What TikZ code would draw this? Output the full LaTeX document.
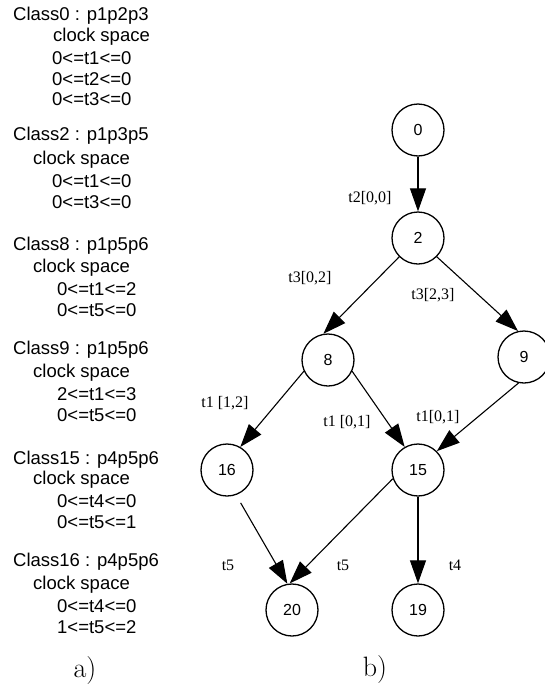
\documentclass[tikz,border=0pt]{standalone}
\usepackage{fontspec}
\newfontfamily\sansf{Liberation Sans}
\newfontfamily\seriff{Liberation Serif}
\usetikzlibrary{arrows.meta}

\begin{document}
\begin{tikzpicture}[x=1pt,y=-1pt,
  state/.style={circle,draw,line width=1.3pt,minimum size=52pt,inner sep=0pt,
    font=\sansf\fontsize{16}{16}\selectfont},
  trans/.style={line width=1.1pt,-{Triangle[length=23pt,width=16pt]}},
  elabel/.style={font=\seriff\fontsize{16}{16}\selectfont,inner sep=0pt},
  info/.style={font=\sansf\fontsize{18.5}{20}\selectfont,inner sep=0pt,anchor=west},
  caption/.style={font=\fontsize{28}{30}\selectfont,inner sep=0pt}]
\useasboundingbox (0,0) rectangle (545,686);

% a) clock spaces of the state classes
\node[info] (c0)  at (13,16)  {Class0 : p1p2p3};
\node[info] (c0s) at (53,37)  {clock space};
\node[info] (c0a) at (52,58)  {0<=t1<=0};
\node[info] (c0b) at (52,79)  {0<=t2<=0};
\node[info] (c0c) at (52,99)  {0<=t3<=0};

\node[info] (c2)  at (13,136) {Class2 : p1p3p5};
\node[info] (c2s) at (33,160) {clock space};
\node[info] (c2a) at (52,181) {0<=t1<=0};
\node[info] (c2b) at (52,202) {0<=t3<=0};

\node[info] (c8)  at (13,246) {Class8 : p1p5p6};
\node[info] (c8s) at (33,268) {clock space};
\node[info] (c8a) at (57,289) {0<=t1<=2};
\node[info] (c8b) at (57,310) {0<=t5<=0};

\node[info] (c9)  at (13,350) {Class9 : p1p5p6};
\node[info] (c9s) at (33,373) {clock space};
\node[info] (c9a) at (57,394) {2<=t1<=3};
\node[info] (c9b) at (57,415) {0<=t5<=0};

\node[info] (c15)  at (13,460) {Class15 : p4p5p6};
\node[info] (c15s) at (33,480) {clock space};
\node[info] (c15a) at (57,501) {0<=t4<=0};
\node[info] (c15b) at (57,522) {0<=t5<=1};

\node[info] (c16)  at (13,562) {Class16 : p4p5p6};
\node[info] (c16s) at (33,585) {clock space};
\node[info] (c16a) at (57,606) {0<=t4<=0};
\node[info] (c16b) at (57,627) {1<=t5<=2};

\node[caption] (capa) at (85,671) {a)};

% b) state class graph
\node[state] (n0)  at (418,130) {0};
\node[state] (n2)  at (418,238) {2};
\node[state] (n8)  at (328,360) {8};
\node[state] (n9)  at (524,357) {9};
\node[state] (n16) at (227,470) {16};
\node[state] (n15) at (418,470) {15};
\node[state] (n20) at (292,610) {20};
\node[state] (n19) at (418,610) {19};

\draw[trans] (n0) -- (n2);
\draw[trans] (n2.225) -- (n8.100);
\draw[trans] (n2.-45) -- (n9.103);
\draw[trans] (n8.205) -- (n16.60);
\draw[trans] (n8.-25) -- (n15.120);
\draw[trans] (n9.258) -- (n15.45);
\draw[trans,shorten <=9pt] (n16.-70) -- (n20.100);
\draw[trans] (n15.199) -- (n20.95);
\draw[trans] (n15) -- (n19);

\node[elabel] (l02)   at (370,198) {t2[0,0]};
\node[elabel] (l28)   at (310,278) {t3[0,2]};
\node[elabel] (l29)   at (433,295) {t3[2,3]};
\node[elabel] (l816)  at (225,403) {t1 [1,2]};
\node[elabel] (l815)  at (347,422) {t1 [0,1]};
\node[elabel] (l915)  at (438,417) {t1[0,1]};
\node[elabel] (l1620) at (228,565) {t5};
\node[elabel] (l1520) at (343,565) {t5};
\node[elabel] (l1519) at (455,565) {t4};

\node[caption] (capb) at (375,670) {b)};
\end{tikzpicture}
\end{document}
